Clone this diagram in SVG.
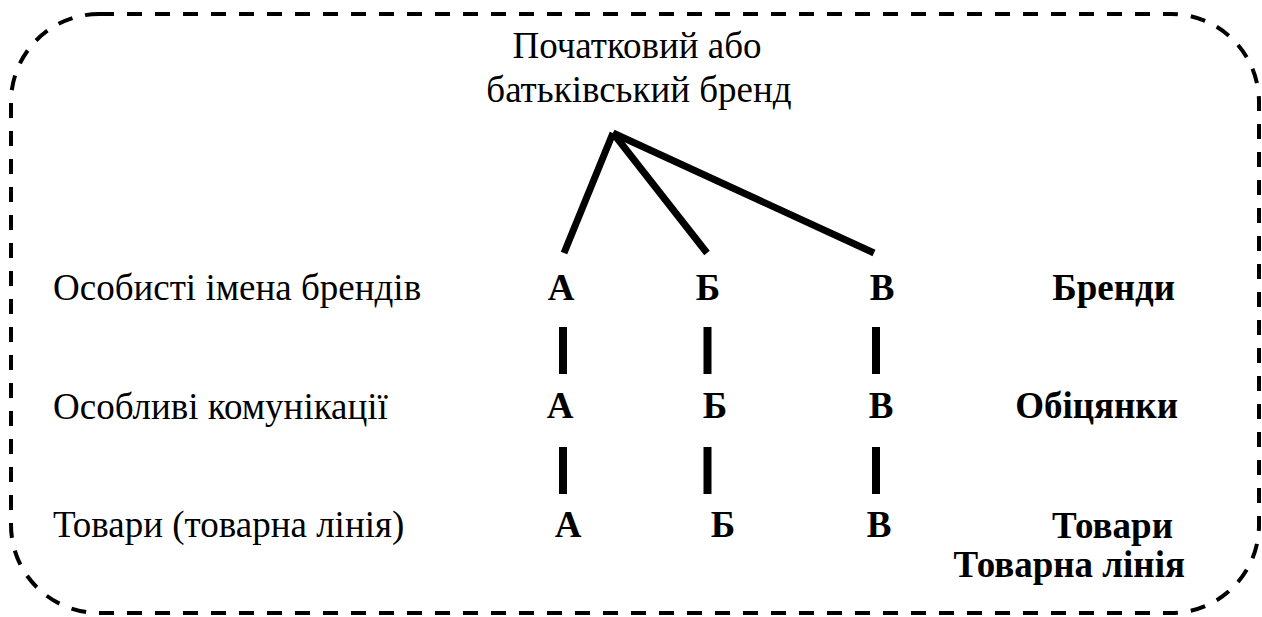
<svg xmlns="http://www.w3.org/2000/svg" width="1262" height="617" viewBox="0 0 1262 617">
<style>
.t{font-family:"Liberation Serif","Times New Roman",serif;font-size:37px;fill:#000}
.b{font-family:"Liberation Serif","Times New Roman",serif;font-size:37px;font-weight:bold;fill:#000}
.m{text-anchor:middle}
.e{text-anchor:end}
.tree{stroke:#000;stroke-width:7;fill:none}
.bar{stroke:#000;stroke-width:8;fill:none}
</style>
<rect id="frame" x="11" y="14" width="1248" height="599" rx="88" ry="88" fill="none" stroke="#000" stroke-width="4" stroke-dasharray="15 13"/>
<g id="parent">
<text class="t m" x="637" y="58">Початковий або</text>
<text class="t m" x="639" y="102">батьківський бренд</text>
</g>
<g id="row-brands">
<text class="t" x="53" y="300">Особисті імена брендів</text>
<text class="b m" x="561" y="300">А</text>
<text class="b m" x="708" y="300">Б</text>
<text class="b m" x="882" y="300">В</text>
<text class="b e" x="1175" y="300">Бренди</text>
</g>
<g id="row-promises">
<text class="t" x="53" y="419">Особливі комунікації</text>
<text class="b m" x="560" y="418">А</text>
<text class="b m" x="715" y="418">Б</text>
<text class="b m" x="881" y="418">В</text>
<text class="b e" x="1178" y="418">Обіцянки</text>
</g>
<g id="row-products">
<text class="t" x="53" y="537">Товари (товарна лінія)</text>
<text class="b m" x="568" y="537">А</text>
<text class="b m" x="723" y="537">Б</text>
<text class="b m" x="879" y="537">В</text>
<text class="b e" x="1173" y="538">Товари</text>
<text class="b e" x="1185" y="577">Товарна лінія</text>
</g>
<g id="connectors">
<line class="tree" x1="613" y1="133" x2="564" y2="253"/>
<line class="tree" x1="613" y1="133" x2="707" y2="253"/>
<line class="tree" x1="613" y1="133" x2="874" y2="253"/>
<line class="bar" x1="563" y1="327" x2="563" y2="374"/>
<line class="bar" x1="707.5" y1="327" x2="707.5" y2="374"/>
<line class="bar" x1="876" y1="327" x2="876" y2="374"/>
<line class="bar" x1="563" y1="447" x2="563" y2="494"/>
<line class="bar" x1="707.5" y1="447" x2="707.5" y2="494"/>
<line class="bar" x1="876" y1="447" x2="876" y2="494"/>
</g>
</svg>
